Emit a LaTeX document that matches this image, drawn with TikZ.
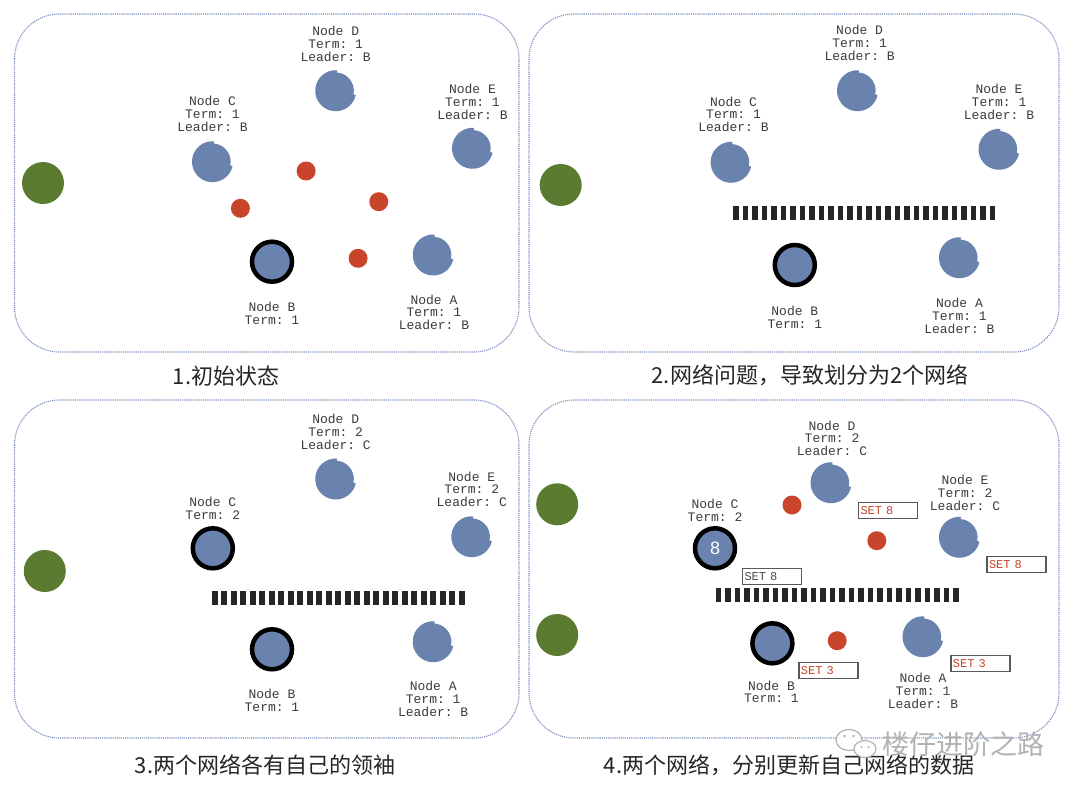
\documentclass[tikz,border=0pt]{standalone}
\usepackage{fontspec}
\setmainfont{Liberation Sans}
\setmonofont{Liberation Mono}
\newfontfamily\cjk{Noto Sans CJK SC}
\usetikzlibrary{calc}
\definecolor{nblue}{HTML}{6A82AE}
\definecolor{nred}{HTML}{C8452C}
\definecolor{ngreen}{HTML}{5B7B31}
\definecolor{pborder}{HTML}{8493C4}
\definecolor{lbl}{HTML}{3C3C3C}
\newcommand\notchnode[1]{\fill[nblue] ($(#1.center)+(86:20.5)$) arc[start angle=86,end angle=348,radius=20.5] -- ($(#1.center)+(-12:18.2)$) arc[start angle=-12,end angle=86,radius=18.2] -- cycle;}
\tikzset{
  panel/.style={draw=pborder, line width=1.1pt, dash pattern=on 1.2pt off 0.9pt, rounded corners=45pt},
  hole/.style={circle, inner sep=0pt, minimum size=41pt},
  leadnode/.style={circle, inner sep=0pt, minimum size=40pt, fill=nblue, draw=black, line width=4.5pt},
  msg/.style={circle, fill=nred, inner sep=0pt, minimum size=19pt},
  client/.style={circle, fill=ngreen, inner sep=0pt, minimum size=42pt},
  lab/.style={font=\ttfamily\fontsize{13}{12.7}\selectfont, text=lbl, align=center, inner sep=0pt},
  captext/.style={font=\cjk\fontsize{22}{24}\selectfont, text=black!85, inner sep=0pt},
  setbox/.style={draw=black!65, line width=1.2pt, minimum height=16pt, text width=55pt, align=left, inner sep=2pt, font=\ttfamily\fontsize{12}{12}\selectfont, text=nred},
  partition/.style={draw=black!85, line width=14pt, dash pattern=on 5.7pt off 3.8pt}
}
\begin{document}
\begin{tikzpicture}[x=1pt,y=1pt]
\useasboundingbox[fill=white] (0,0) rectangle (1080,-793);

% ---------- panel 1 ----------
\draw[panel] (14.5,-14) rectangle (519,-352);
\node[client] (g1) at (43,-183) {};
\node[hole] (C1) at (212.5,-161.7) {}; \notchnode{C1}
\node[hole] (D1) at (335.7,-90.7) {}; \notchnode{D1}
\node[hole] (E1) at (472.5,-148.3) {}; \notchnode{E1}
\node[hole] (A1) at (433.2,-255) {}; \notchnode{A1}
\node[leadnode] (B1) at (272,-261.7) {};
\node[lab] (lC1) at (212.5,-114) {Node C\\Term: 1\\Leader: B};
\node[lab] (lD1) at (335.7,-44) {Node D\\Term: 1\\Leader: B};
\node[lab] (lE1) at (472.5,-101.7) {Node E\\Term: 1\\Leader: B};
\node[lab] (lB1) at (272,-313) {Node B\\Term: 1};
\node[lab] (lA1) at (434,-312.3) {Node A\\Term: 1\\Leader: B};
\node[msg] (m11) at (306.1,-171) {};
\node[msg] (m12) at (240.4,-208.3) {};
\node[msg] (m13) at (378.8,-201.7) {};
\node[msg] (m14) at (358.1,-258.3) {};
\node[captext] (cap1) at (226,-376) {1.初始状态};

% ---------- panel 2 ----------
\draw[panel] (529,-14) rectangle (1059,-352);
\node[client] (g2) at (560.7,-185) {};
\node[hole] (C2) at (731.1,-162.3) {}; \notchnode{C2}
\node[hole] (D2) at (857.5,-90.7) {}; \notchnode{D2}
\node[hole] (E2) at (999,-149.3) {}; \notchnode{E2}
\node[hole] (A2) at (959.4,-257.7) {}; \notchnode{A2}
\node[leadnode] (B2) at (794.8,-265) {};
\node[lab] (lC2) at (733.5,-114.3) {Node C\\Term: 1\\Leader: B};
\node[lab] (lD2) at (859.6,-42.7) {Node D\\Term: 1\\Leader: B};
\node[lab] (lE2) at (999,-101.7) {Node E\\Term: 1\\Leader: B};
\node[lab] (lB2) at (794.8,-317.2) {Node B\\Term: 1};
\node[lab] (lA2) at (959.4,-316) {Node A\\Term: 1\\Leader: B};
\coordinate (p2a) at (733,-212.7);
\coordinate (p2b) at (995.2,-212.7);
\draw[partition] (p2a) -- (p2b);
\node[captext] (cap2) at (810,-375) {2.网络问题，导致划分为2个网络};

% ---------- panel 3 ----------
\draw[panel] (14.5,-400) rectangle (519,-738);
\node[client] (g3) at (44.8,-571) {};
\node[hole] (D3) at (335.7,-479) {}; \notchnode{D3}
\node[hole] (E3) at (471.8,-536.7) {}; \notchnode{E3}
\node[hole] (A3) at (433.2,-641.7) {}; \notchnode{A3}
\node[leadnode] (C3) at (212.8,-548.3) {};
\node[leadnode] (B3) at (272,-649.3) {};
\node[lab] (lC3) at (212.8,-508.3) {Node C\\Term: 2};
\node[lab] (lD3) at (335.7,-431.7) {Node D\\Term: 2\\Leader: C};
\node[lab] (lE3) at (471.8,-489.3) {Node E\\Term: 2\\Leader: C};
\node[lab] (lB3) at (272,-700.3) {Node B\\Term: 1};
\node[lab] (lA3) at (433.2,-699) {Node A\\Term: 1\\Leader: B};
\coordinate (p3a) at (211.8,-598.3);
\coordinate (p3b) at (464.5,-598.3);
\draw[partition] (p3a) -- (p3b);
\node[captext] (cap3) at (265,-765) {3.两个网络各有自己的领袖};

% ---------- panel 4 ----------
\draw[panel] (529,-400) rectangle (1059,-738);
\node[client] (g4a) at (557.2,-504.3) {};
\node[client] (g4b) at (557.2,-635) {};
\node[hole] (D4) at (831,-482.7) {}; \notchnode{D4}
\node[hole] (E4) at (959.4,-537.3) {}; \notchnode{E4}
\node[hole] (A4) at (923,-636.7) {}; \notchnode{A4}
\node[leadnode, text=white, font=\fontsize{18}{18}\selectfont] (C4) at (715,-548.3) {8};
\node[leadnode] (B4) at (772.4,-643.3) {};
\node[lab] (lC4) at (715,-510.2) {Node C\\Term: 2};
\node[lab] (lD4) at (832,-438.3) {Node D\\Term: 2\\Leader: C};
\node[lab] (lE4) at (965,-493) {Node E\\Term: 2\\Leader: C};
\node[lab] (lB4) at (771.4,-691.7) {Node B\\Term: 1};
\node[lab] (lA4) at (923,-690.7) {Node A\\Term: 1\\Leader: B};
\node[msg] (m41) at (792,-505) {};
\node[msg] (m42) at (876.8,-540.7) {};
\node[msg] (m43) at (837.2,-640.7) {};
\node[setbox] (s1) at (888,-510.4) {SET 8};
\node[setbox] (s2) at (1016.5,-564.5) {SET 8};
\node[setbox, text=black!70] (s3) at (772,-576.3) {SET 8};
\node[setbox] (s4) at (828.4,-670.8) {SET 3};
\node[setbox] (s5) at (980.4,-663.4) {SET 3};
\coordinate (p4a) at (715.6,-595);
\coordinate (p4b) at (958.8,-595);
\draw[partition] (p4a) -- (p4b);
\node[captext] (cap4) at (789,-765) {4.两个网络，分别更新自己网络的数据};

% ---------- watermark ----------
\node[font=\cjk\fontsize{27}{27}\selectfont, text=black!30, inner sep=0pt] (wm) at (963,-744) {楼仔进阶之路};
\draw[black!30, line width=1.2pt, fill=white] (849,-740) ellipse (13 and 10.5);
\fill[black!30] (844.5,-736) circle (1.3) (853.5,-736) circle (1.3);
\draw[black!30, line width=1.2pt, fill=white] (865,-749) ellipse (11 and 8.5);
\fill[black!30] (861.5,-747) circle (1.1) (868.5,-747) circle (1.1);
\end{tikzpicture}
\end{document}
